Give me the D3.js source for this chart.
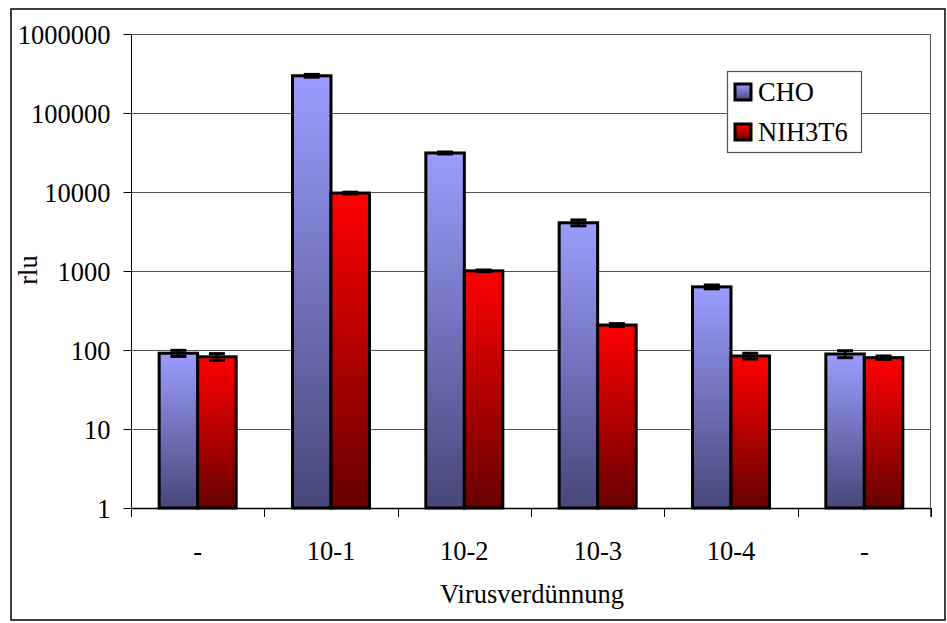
<!DOCTYPE html>
<html><head><meta charset="utf-8">
<script src="https://cdn.jsdelivr.net/npm/d3@7"></script>
<style>body{margin:0;background:#fff}svg{display:block}svg text{font-family:"Times New Roman","Liberation Serif",Tinos,"DejaVu Serif",serif !important;fill:#000}</style>
</head><body>
<svg id="c" width="947" height="623"></svg>
<script>
const categories = ["-", "10-1", "10-2", "10-3", "10-4", "-"];
const series = ["CHO", "NIH3T6"];
const choValues = [91, 296000, 31200, 4080, 630, 89];
const nihValues = [82, 9700, 1005, 207, 84, 80];
const choErrors = [8, 12000, 900, 350, 35, 9];
const nihErrors = [8, 250, 25, 9, 7, 4];
const yTicks = [1, 10, 100, 1000, 10000, 100000, 1000000];

const svg = d3.select("#c");
const L = 131, R = 931, T = 34, B = 508;
const defs = svg.append("defs");
const grads = [
  {id: "gCho", top: "#9c9cff", bot: "#474778"},
  {id: "gNih", top: "#ff0000", bot: "#660000"}
];
grads.forEach(g => {
  const lg = defs.append("linearGradient").attr("id", g.id).attr("x1", 0).attr("y1", 0).attr("x2", 0).attr("y2", 1);
  lg.append("stop").attr("offset", "0%").attr("stop-color", g.top);
  lg.append("stop").attr("offset", "100%").attr("stop-color", g.bot);
});

// outer border
svg.append("rect").attr("x", 11).attr("y", 9).attr("width", 934).attr("height", 611)
  .attr("fill", "none").attr("stroke", "#000").attr("stroke-width", 1.5);

const x0 = d3.scaleBand().domain(d3.range(categories.length)).range([L, R]).padding(0);
const x1 = d3.scaleBand().domain(series).range([0, 77]);
const y = d3.scaleLog().domain([1, 1000000]).range([B, T]);

// gridlines
svg.append("g").selectAll("line").data(yTicks).join("line")
  .attr("x1", L).attr("x2", R).attr("y1", d => Math.round(y(d)) + 0.5).attr("y2", d => Math.round(y(d)) + 0.5)
  .attr("stroke", "#555").attr("stroke-width", 1);
// right border of plot
svg.append("line").attr("x1", R - 0.5).attr("x2", R - 0.5).attr("y1", T).attr("y2", B + 9)
  .attr("stroke", "#555");

// y axis
const yAxis = d3.axisLeft(y).tickValues(yTicks).tickFormat(d3.format("d")).tickSize(8).tickPadding(13);
const ga = svg.append("g").attr("transform", `translate(${L + 0.5},0)`).call(yAxis);
ga.attr("font-family", null);
ga.select(".domain").attr("stroke", "#000").attr("d", `M0,${T}V${B}`);
ga.selectAll(".tick line").attr("stroke", "#000");
ga.selectAll(".tick text").style("font-size", "26.5px").attr("dy", "0.34em");

// x axis
const boundaries = d3.range(categories.length + 1).map(i => L + i * x0.bandwidth());
svg.append("line").attr("x1", L).attr("x2", R).attr("y1", B + 0.5).attr("y2", B + 0.5).attr("stroke", "#000").attr("stroke-width", 1.5);
svg.append("g").selectAll("line").data(boundaries).join("line")
  .attr("x1", d => Math.round(d) + 0.5).attr("x2", d => Math.round(d) + 0.5)
  .attr("y1", B).attr("y2", B + 9).attr("stroke", "#000");
svg.append("g").selectAll("text").data(categories).join("text")
  .attr("x", (d, i) => x0(i) + x0.bandwidth() / 2).attr("y", 560)
  .attr("text-anchor", "middle").style("font-size", "26.5px").text(d => d);

// bars
const data = categories.map((c, i) => ({i, vals: [
  {s: "CHO", v: choValues[i], e: choErrors[i], g: "gCho"},
  {s: "NIH3T6", v: nihValues[i], e: nihErrors[i], g: "gNih"}
]}));
const groups = svg.append("g").selectAll("g").data(data).join("g")
  .attr("transform", d => `translate(${x0(d.i) + x0.bandwidth() / 2 - 38.5},0)`);
groups.selectAll("rect").data(d => d.vals).join("rect")
  .attr("x", d => x1(d.s)).attr("width", x1.bandwidth())
  .attr("y", d => y(d.v)).attr("height", d => B - y(d.v))
  .attr("fill", d => `url(#${d.g})`).attr("stroke", "#000").attr("stroke-width", 3);
// error bars
const eb = groups.selectAll("g.eb").data(d => d.vals).join("g").attr("class", "eb");
eb.append("line").attr("x1", d => x1(d.s) + x1.bandwidth() / 2).attr("x2", d => x1(d.s) + x1.bandwidth() / 2)
  .attr("y1", d => y(d.v + d.e)).attr("y2", d => y(d.v - d.e)).attr("stroke", "#000").attr("stroke-width", 2.5);
eb.selectAll("line.cap").data(d => [d.v + d.e, d.v - d.e].map(v => ({s: d.s, v}))).join("line").attr("class", "cap")
  .attr("x1", d => x1(d.s) + x1.bandwidth() / 2 - 8).attr("x2", d => x1(d.s) + x1.bandwidth() / 2 + 8)
  .attr("y1", d => y(d.v)).attr("y2", d => y(d.v)).attr("stroke", "#000").attr("stroke-width", 3);

// axis titles
svg.append("text").attr("x", 532).attr("y", 603).attr("text-anchor", "middle").style("font-size", "26.5px").text("Virusverdünnung");
svg.append("text").attr("transform", "translate(37,270) rotate(-90)").attr("text-anchor", "middle").style("font-size", "26.5px").text("rlu");

// legend
const lg = svg.append("g");
lg.append("rect").attr("x", 727.5).attr("y", 71.5).attr("width", 134).attr("height", 81)
  .attr("fill", "#fff").attr("stroke", "#555").attr("stroke-width", 1.2);
const legendItems = [{s: "CHO", g: "gCho", y: 92}, {s: "NIH3T6", g: "gNih", y: 132}];
legendItems.forEach(it => {
  lg.append("rect").attr("x", 735).attr("y", it.y - 8).attr("width", 16).attr("height", 16)
    .attr("fill", `url(#${it.g})`).attr("stroke", "#000").attr("stroke-width", 3);
  lg.append("text").attr("x", 758).attr("y", it.y).attr("dy", "0.35em").style("font-size", "26.5px").text(it.s);
});
</script>
</body></html>
